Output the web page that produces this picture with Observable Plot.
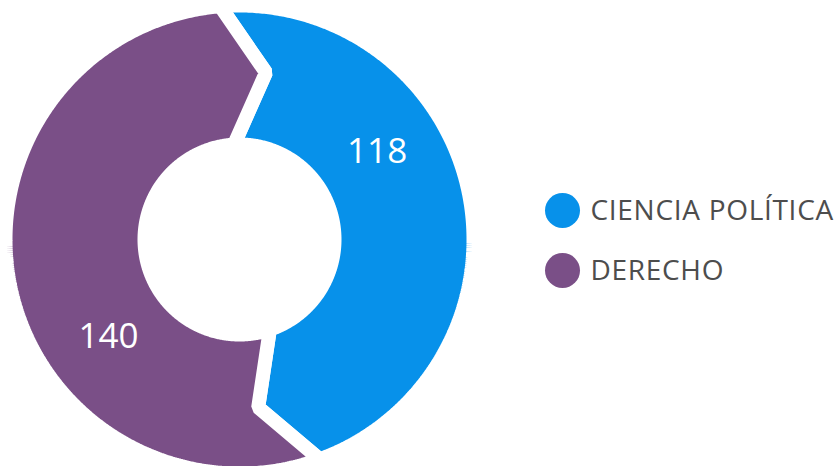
<!DOCTYPE html>
<html>
<head>
<meta charset="utf-8">
<script src="https://cdn.jsdelivr.net/npm/d3@7"></script>
<script src="https://cdn.jsdelivr.net/npm/@observablehq/plot@0.6"></script>
<style>
  html, body { margin: 0; padding: 0; background: #ffffff; overflow: hidden; }
  #chart svg { display: block; }
</style>
</head>
<body>
<div id="chart"></div>
<script>
// ---- data ----
const categories = ["CIENCIA POLÍTICA", "DERECHO"];
const values = [118, 140];
const colors = ["#0791EA", "#7A4F87"];
const valueLabels = ["118", "140"];

// ---- layout constants (pixels) ----
const W = 837, H = 466;
const cx = 239, cy = 239;
const R = 227, r = 102;
const gap = 14;
const tipR = 169;          // radius of the chevron tip
const tipShift = 11.5;     // degrees the tip leads the boundary
const skew = 1.2;          // outer corner trails / inner corner leads (degrees)
const startAngle = -2.5;   // degrees clockwise from 12 o'clock
const labelFrac = 0.365;
const labelR = 163;

const rad = d => d * Math.PI / 180;
const polar = (rho, a) => [cx + rho * Math.sin(rad(a)), cy - rho * Math.cos(rad(a))];
const angleOf = p => Math.atan2(p[0] - cx, -(p[1] - cy)) * 180 / Math.PI;
function extend(T, P, target) {
  const d = [P[0] - T[0], P[1] - T[1]];
  const t = [T[0] - cx, T[1] - cy];
  const a = d[0] * d[0] + d[1] * d[1];
  const b = 2 * (t[0] * d[0] + t[1] * d[1]);
  const c = t[0] * t[0] + t[1] * t[1] - target * target;
  const disc = Math.sqrt(Math.max(0, b * b - 4 * a * c));
  const k1 = (-b + disc) / (2 * a), k2 = (-b - disc) / (2 * a);
  const k = Math.abs(k1 - 1) < Math.abs(k2 - 1) ? k1 : k2;
  return [T[0] + k * d[0], T[1] + k * d[1]];
}
const Rext = R + gap / 2, rint = r - gap / 2;
function boundary(phi) {
  const O = polar(R, phi - skew);
  const I = polar(r, phi + skew);
  const T = polar(tipR, phi + tipShift);
  return {O: extend(T, O, Rext), I: extend(T, I, rint), T};
}
function unwrapNear(a, ref) {
  while (a - ref > 180) a -= 360;
  while (ref - a > 180) a += 360;
  return a;
}

const total = d3.sum(values);
let cum = 0;
const polyPoints = [];
const labelData = [];
categories.forEach((cat, i) => {
  const a0 = startAngle + 360 * cum / total;
  cum += values[i];
  const a1 = startAngle + 360 * cum / total;
  const b0 = boundary(a0), b1 = boundary(a1);
  const pts = [];
  const oa0 = unwrapNear(angleOf(b0.O), a0);
  const oa1 = unwrapNear(angleOf(b1.O), a1);
  const n1 = Math.ceil((oa1 - oa0) / 0.5);
  for (let k = 0; k <= n1; k++) pts.push(polar(Rext, oa0 + (oa1 - oa0) * k / n1));
  pts.push(b1.T);
  const ia1 = unwrapNear(angleOf(b1.I), a1);
  const ia0 = unwrapNear(angleOf(b0.I), a0);
  const n2 = Math.ceil((ia1 - ia0) / 0.5);
  for (let k = 0; k <= n2; k++) pts.push(polar(rint, ia1 - (ia1 - ia0) * k / n2));
  pts.push(b0.T);
  pts.push(pts[0]);
  pts.forEach(p => polyPoints.push({cat, x: p[0], y: p[1]}));
  const la = a0 + labelFrac * (a1 - a0);
  const lp = polar(labelR, la);
  labelData.push({x: lp[0], y: lp[1], text: valueLabels[i]});
});

const legendData = categories.map((cat, i) => ({cat, x: 562, tx: 590, y: 210 + 60 * i, ty: 211 + 60 * i}));

const chart = Plot.plot({
  width: W,
  height: H,
  margin: 0,
  style: {fontFamily: "'Open Sans', sans-serif", background: "#ffffff"},
  x: {domain: [0, W], range: [0, W], axis: null},
  y: {domain: [0, H], range: [0, H], axis: null},
  color: {domain: categories, range: colors},
  marks: [
    Plot.line(polyPoints, {
      x: "x", y: "y", z: "cat", fill: "cat",
      stroke: "#ffffff", strokeWidth: gap, strokeLinejoin: "miter", curve: "linear"
    }),
    Plot.text(labelData, {
      x: "x", y: "y", text: "text", fill: "#ffffff",
      fontSize: 35, fontFamily: "'Open Sans', sans-serif", textAnchor: "middle", lineAnchor: "middle"
    }),
    Plot.dot(legendData, {x: "x", y: "y", r: 17.5, fill: "cat"}),
    Plot.text(legendData, {
      x: "tx", y: "ty", text: "cat", fill: "#4d4d4d",
      fontSize: 28, fontFamily: "'Open Sans', sans-serif", textAnchor: "start", lineAnchor: "middle"
    })
  ]
});
// widen the legend lettering slightly (last text mark)
const textGroups = d3.select(chart).selectAll("g[aria-label='text']").nodes();
d3.select(textGroups[textGroups.length - 1]).style("letter-spacing", "0.7px");
document.getElementById("chart").appendChild(chart);
</script>
</body>
</html>
